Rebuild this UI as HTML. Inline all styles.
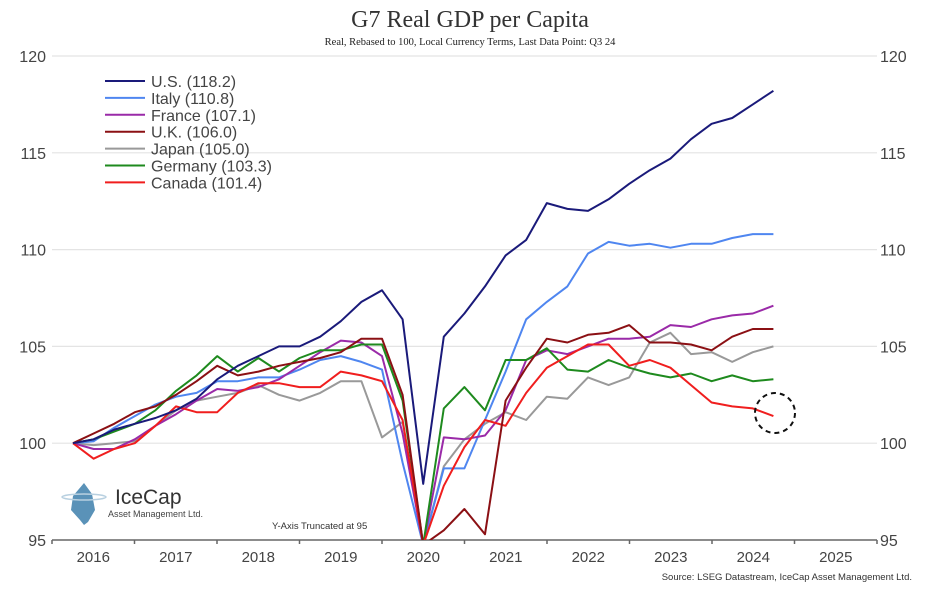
<!DOCTYPE html>
<html><head><meta charset="utf-8">
<style>
html,body{margin:0;padding:0;background:#fff;width:939px;height:589px;overflow:hidden;}
svg{display:block;}
text{font-family:"Liberation Sans",sans-serif;}
</style></head>
<body>
<svg id="chart" width="939" height="589" viewBox="0 0 939 589" xmlns="http://www.w3.org/2000/svg">
<defs><clipPath id="plotclip"><rect x="52" y="40" width="830" height="500"/></clipPath></defs>
<text x="470" y="27" text-anchor="middle" style="font-family:'Liberation Serif',serif" font-size="24" fill="#333">G7 Real GDP per Capita</text>
<text x="470" y="45" text-anchor="middle" style="font-family:'Liberation Serif',serif" font-size="10.5" fill="#222">Real, Rebased to 100, Local Currency Terms, Last Data Point: Q3 24</text>
<g id="grid"></g>
<g id="axes"></g>
<g id="series" clip-path="url(#plotclip)"></g>
<g id="legend"></g>
<circle cx="775" cy="413" r="20" fill="none" stroke="#111" stroke-width="2" stroke-dasharray="5,4"/>
<g>
<path d="M84,483 L92,494 L95,510 L88,522 L84,525 L80,520 L71,510 L73,496 Z" fill="#5a92b8"/>
<ellipse cx="84" cy="497" rx="22" ry="3" fill="none" stroke="#b8d0e0" stroke-width="1.5"/>
<text x="115" y="504" font-size="21" fill="#333">IceCap</text>
<text x="108" y="517" font-size="9" fill="#444">Asset Management Ltd.</text>
</g>
<text x="272" y="529" font-size="9.5" fill="#333">Y-Axis Truncated at 95</text>
<text x="912" y="580" text-anchor="end" font-size="9.5" fill="#333">Source: LSEG Datastream, IceCap Asset Management Ltd.</text>
</svg>
<script>
const seriesNames = ["U.S. (118.2)","Italy (110.8)","France (107.1)","U.K. (106.0)","Japan (105.0)","Germany (103.3)","Canada (101.4)"];
const seriesColors = ["#1a1a7a","#4f86f0","#9a2aa8","#8b1014","#999999","#1e8a1e","#f01e1e"];
const usValues = [100,100.2,100.7,101.0,101.3,101.7,102.3,103.3,104.0,104.5,105.0,105.0,105.5,106.3,107.3,107.9,106.4,97.9,105.5,106.7,108.1,109.7,110.5,112.4,112.1,112.0,112.6,113.4,114.1,114.7,115.7,116.5,116.8,117.5,118.2];
const italyValues = [100,100.1,100.8,101.4,102.0,102.4,102.6,103.2,103.2,103.4,103.4,103.8,104.3,104.5,104.2,103.8,99.0,91.0,98.7,98.7,101.2,103.7,106.4,107.3,108.1,109.8,110.4,110.2,110.3,110.1,110.3,110.3,110.6,110.8,110.8];
const franceValues = [100,99.7,99.7,100.2,100.9,101.5,102.2,102.8,102.7,102.9,103.3,104.0,104.7,105.3,105.2,104.5,100.5,91.5,100.3,100.2,100.4,101.7,104.3,104.8,104.6,105.0,105.4,105.4,105.5,106.1,106.0,106.4,106.6,106.7,107.1];
const ukValues = [100,100.5,101.0,101.6,101.9,102.5,103.2,104.0,103.5,103.7,104.0,104.2,104.4,104.7,105.4,105.4,102.5,89.0,95.5,96.6,95.3,102.2,103.9,105.4,105.2,105.6,105.7,106.1,105.2,105.2,105.1,104.8,105.5,105.9,105.9];
const japanValues = [100,99.9,100.0,100.1,100.9,101.7,102.2,102.4,102.6,103.0,102.5,102.2,102.6,103.2,103.2,100.3,101.1,94.0,98.8,100.2,101.0,101.6,101.2,102.4,102.3,103.4,103.0,103.4,105.2,105.7,104.6,104.7,104.2,104.7,105.0];
const germanyValues = [100,100.2,100.6,101.0,101.7,102.7,103.5,104.5,103.7,104.4,103.7,104.4,104.8,104.8,105.1,105.1,102.2,93.0,101.8,102.9,101.7,104.3,104.3,104.9,103.8,103.7,104.3,103.9,103.6,103.4,103.6,103.2,103.5,103.2,103.3];
const canadaValues = [100,99.2,99.7,100.0,100.9,101.9,101.6,101.6,102.6,103.1,103.1,102.9,102.9,103.7,103.5,103.2,101.2,90.0,97.8,99.8,101.2,100.9,102.6,103.9,104.5,105.1,105.1,104.0,104.3,103.9,103.0,102.1,101.9,101.8,101.4];
const yTicks = [95,100,105,110,115,120];
const xYears = ["2016","2017","2018","2019","2020","2021","2022","2023","2024","2025"];

const svgNS = "http://www.w3.org/2000/svg";
const X0 = 73, DX = 20.6, XA = 52, XB = 877, YEARW = 82.5;
function xq(i){ return X0 + i*DX; }
function yv(v){ return 443.2 - (v-100)*19.36; }
function yclamp(v){ return Math.min(545, yv(v)); }
function mk(tag, attrs, parent){ const e=document.createElementNS(svgNS,tag); for(const k in attrs) e.setAttribute(k,attrs[k]); parent.appendChild(e); return e; }

const grid=document.getElementById('grid'), axes=document.getElementById('axes'), ser=document.getElementById('series'), leg=document.getElementById('legend');
yTicks.forEach(t=>{
  if(t>95){
    const g=mk('line',{x1:XA,x2:XB,y1:yv(t),y2:yv(t),stroke:'#e4e4e4','stroke-width':1.2},grid);
    
    
  }
  const l=mk('text',{x:46,y:yv(t)+6,'text-anchor':'end','font-size':16,fill:'#444'},axes);
  l.textContent=t;
  
  
  const r=mk('text',{x:880,y:yv(t)+6,'font-size':16,fill:'#444'},axes);
  r.textContent=t;
  
  
});
const ax=mk('line',{x1:XA,x2:XB,y1:yv(95),y2:yv(95),stroke:'#666','stroke-width':1.5},axes);


for(let k=0;k<=xYears.length;k++){
  const tk=mk('line',{x1:XA+k*YEARW,x2:XA+k*YEARW,y1:yv(95),y2:yv(95)+4,stroke:'#666','stroke-width':1.5},axes);
  
  
}
xYears.forEach((y,k)=>{
  const t=mk('text',{x:XA+(k+0.5)*YEARW,y:562,'text-anchor':'middle','font-size':15,fill:'#444'},axes);
  t.textContent=y;
  
  
});
const allSeries=[usValues,italyValues,franceValues,ukValues,japanValues,germanyValues,canadaValues];
const drawOrder=[4,1,2,5,6,3,0];
drawOrder.forEach(s=>{
  const pts=allSeries[s].map((v,i)=>xq(i).toFixed(1)+','+yclamp(v).toFixed(1)).join(' ');
  const p=mk('polyline',{points:pts,fill:'none',stroke:seriesColors[s],'stroke-width':2,'stroke-linejoin':'round'},ser);
  
  
});
seriesNames.forEach((n,s)=>{
  const yy=81+s*16.9;
  const g=mk('g',{},leg);
  
  
  mk('line',{x1:105,x2:145,y1:yy,y2:yy,stroke:seriesColors[s],'stroke-width':2},g);
  const t=mk('text',{x:151,y:yy+6,'font-size':16,fill:'#444'},g);
  t.textContent=n;
});
</script>
</body></html>
